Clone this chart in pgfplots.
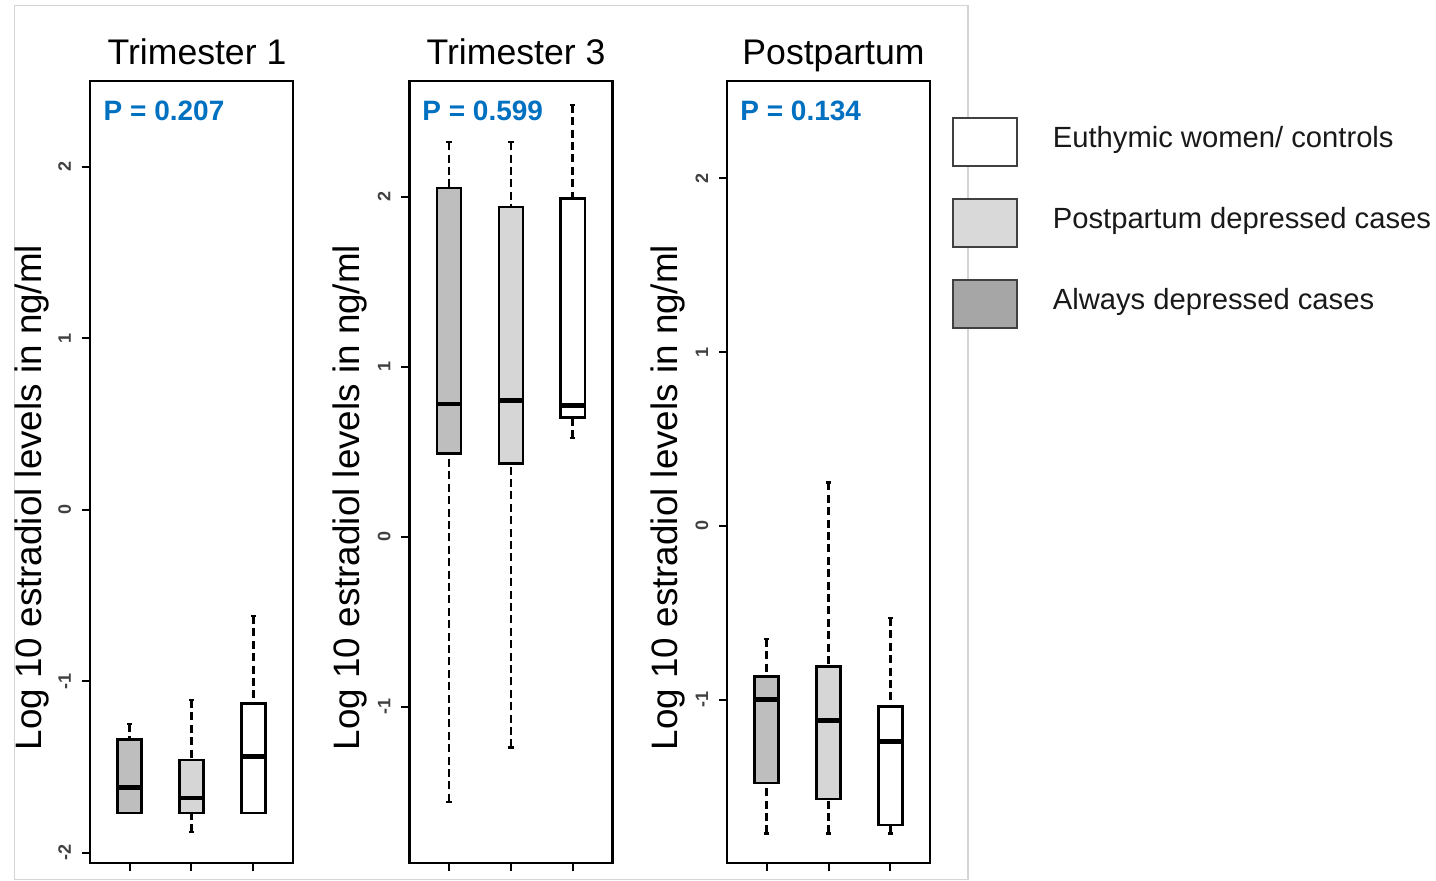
\documentclass[border=0pt]{standalone}
\usepackage{fontspec}
\setmainfont{Liberation Sans}
\usepackage{pgfplots}
\pgfplotsset{compat=1.18}
\usepgfplotslibrary{statistics}
\definecolor{dk}{RGB}{190,190,190}
\definecolor{lt}{RGB}{214,214,214}
\definecolor{lgdk}{RGB}{166,166,166}
\definecolor{lglt}{RGB}{217,217,217}
\definecolor{pblue}{RGB}{0,112,192}
\definecolor{framegray}{RGB}{212,212,212}

\pgfplotsset{
  panel/.style={
    scale only axis, width=101.5pt, height=391pt,
    anchor=south west,
    xmin=0.36, xmax=3.64,
    enlargelimits=false,
    axis line style={line width=1.2pt},
    tick style={line width=1pt, black},
    major tick length=4pt,
    tick align=outside, tick pos=left,
    xtick={1,2,3}, xticklabels={},
    yticklabel style={rotate=90, anchor=base, font=\bfseries\fontsize{9}{10}\selectfont, text=black!75},
    yticklabel shift=5.5pt,
    boxplot/draw direction=y,
    boxplot/box extend=0.39,
    boxplot/whisker extend=0.09,
    boxplot/every median/.style={line width=2.3pt, black},
    boxplot/draw/lower whisker/.code={%
      \draw[line width=1.2pt, dash pattern=on 4pt off 2.2pt]
        (boxplot box cs:\pgfplotsboxplotvalue{lower whisker},0.5) --
        (boxplot box cs:\pgfplotsboxplotvalue{lower quartile},0.5);
      \draw[line width=1.2pt]
        (boxplot whisker cs:\pgfplotsboxplotvalue{lower whisker},0) --
        (boxplot whisker cs:\pgfplotsboxplotvalue{lower whisker},1);
    },
    boxplot/draw/upper whisker/.code={%
      \draw[line width=1.2pt, dash pattern=on 4pt off 2.2pt]
        (boxplot box cs:\pgfplotsboxplotvalue{upper whisker},0.5) --
        (boxplot box cs:\pgfplotsboxplotvalue{upper quartile},0.5);
      \draw[line width=1.2pt]
        (boxplot whisker cs:\pgfplotsboxplotvalue{upper whisker},0) --
        (boxplot whisker cs:\pgfplotsboxplotvalue{upper whisker},1);
    },
  },
  dkbox/.style={boxplot/every box/.style={fill=dk, draw=black, line width=1.2pt}},
  ltbox/.style={boxplot/every box/.style={fill=lt, draw=black, line width=1.2pt}},
  wtbox/.style={boxplot/every box/.style={fill=white, draw=black, line width=1.2pt}},
}

\begin{document}
\begin{tikzpicture}
\useasboundingbox (0pt,0pt) rectangle (718pt,-440.5pt);
\draw[framegray, line width=0.75pt] (7.15pt,-2.85pt) rectangle (484pt,-439.65pt);

% Panel 1: Trimester 1
\begin{axis}[panel, at={(45pt,-431.5pt)},
  ymin=-2.06, ymax=2.50,
  ytick={-2,-1,0,1,2}, yticklabels={-2,-1,0,1,2}]
\addplot[dkbox, boxplot prepared={draw position=1,
  lower whisker=-1.77, lower quartile=-1.77, median=-1.62,
  upper quartile=-1.34, upper whisker=-1.25}] coordinates {};
\addplot[ltbox, boxplot prepared={draw position=2,
  lower whisker=-1.88, lower quartile=-1.77, median=-1.68,
  upper quartile=-1.46, upper whisker=-1.11}] coordinates {};
\addplot[wtbox, boxplot prepared={draw position=3,
  lower whisker=-1.77, lower quartile=-1.77, median=-1.44,
  upper quartile=-1.13, upper whisker=-0.62}] coordinates {};
\end{axis}

% Panel 2: Trimester 3
\begin{axis}[panel, at={(204.65pt,-431.5pt)},
  ymin=-1.92, ymax=2.68,
  ytick={-1,0,1,2}, yticklabels={-1,0,1,2}]
\addplot[dkbox, boxplot prepared={draw position=1,
  lower whisker=-1.56, lower quartile=0.49, median=0.78,
  upper quartile=2.05, upper whisker=2.32}] coordinates {};
\addplot[ltbox, boxplot prepared={draw position=2,
  lower whisker=-1.24, lower quartile=0.43, median=0.80,
  upper quartile=1.94, upper whisker=2.32}] coordinates {};
\addplot[wtbox, boxplot prepared={draw position=3,
  lower whisker=0.58, lower quartile=0.70, median=0.77,
  upper quartile=1.99, upper whisker=2.54}] coordinates {};
\end{axis}

% Panel 3: Postpartum
\begin{axis}[panel, at={(363.5pt,-431.5pt)},
  ymin=-1.94, ymax=2.56,
  ytick={-1,0,1,2}, yticklabels={-1,0,1,2},
  legend style={at={(1.1095,0.954)}, anchor=north west, draw=none, fill=none,
    inner sep=0pt, outer sep=0pt, row sep=15.75pt, column sep=17.5pt,
    nodes={inner sep=0pt, font=\fontsize{14.6}{16}\selectfont, text=black!90}},
  legend cell align=left,
  legend image code/.code={\draw[#1] (0pt,-13.75pt) rectangle (32pt,10.25pt);}]
\addlegendimage{fill=white, draw=black!75, line width=0.8pt}
\addlegendentry{Euthymic women/ controls}
\addlegendimage{fill=lglt, draw=black!75, line width=0.8pt}
\addlegendentry{Postpartum depressed cases}
\addlegendimage{fill=lgdk, draw=black!75, line width=0.8pt}
\addlegendentry{Always depressed cases}
\addplot[dkbox, boxplot prepared={draw position=1,
  lower whisker=-1.77, lower quartile=-1.48, median=-1.00,
  upper quartile=-0.866, upper whisker=-0.65}] coordinates {};
\addplot[ltbox, boxplot prepared={draw position=2,
  lower whisker=-1.77, lower quartile=-1.57, median=-1.12,
  upper quartile=-0.81, upper whisker=0.25}] coordinates {};
\addplot[wtbox, boxplot prepared={draw position=3,
  lower whisker=-1.77, lower quartile=-1.72, median=-1.24,
  upper quartile=-1.04, upper whisker=-0.53}] coordinates {};
\end{axis}

% Titles
\node[anchor=base, font=\fontsize{17.8}{20}\selectfont] at (98.5pt,-32.5pt) {Trimester 1};
\node[anchor=base, font=\fontsize{17.8}{20}\selectfont] at (258pt,-32.5pt) {Trimester 3};
\node[anchor=base, font=\fontsize{17.8}{20}\selectfont] at (416.75pt,-32.5pt) {Postpartum};

% P values
\node[anchor=base west, inner sep=0pt, text=pblue, font=\bfseries\fontsize{14}{16}\selectfont] at (51.65pt,-60.35pt) {P = 0.207};
\node[anchor=base west, inner sep=0pt, text=pblue, font=\bfseries\fontsize{14}{16}\selectfont] at (211pt,-60.35pt) {P = 0.599};
\node[anchor=base west, inner sep=0pt, text=pblue, font=\bfseries\fontsize{14}{16}\selectfont] at (370pt,-60.35pt) {P = 0.134};

% Y labels
\node[rotate=90, anchor=base, inner sep=0pt, font=\fontsize{18.4}{20}\selectfont] at (20.5pt,-248.75pt) {Log 10 estradiol levels in ng/ml};
\node[rotate=90, anchor=base, inner sep=0pt, font=\fontsize{18.4}{20}\selectfont] at (179.5pt,-248.75pt) {Log 10 estradiol levels in ng/ml};
\node[rotate=90, anchor=base, inner sep=0pt, font=\fontsize{18.4}{20}\selectfont] at (338.5pt,-248.75pt) {Log 10 estradiol levels in ng/ml};
\end{tikzpicture}
\end{document}
